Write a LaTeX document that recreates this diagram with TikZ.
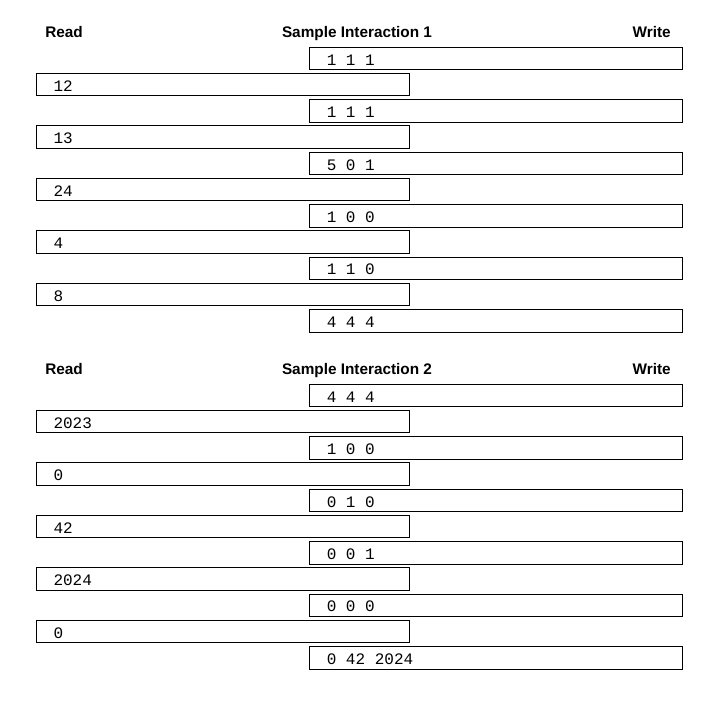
\documentclass[tikz,border=0pt]{standalone}
\usepackage{fontspec}
\setmainfont{Liberation Sans}
\newfontfamily\iofont{Liberation Mono}
\usepackage{tikz}

\tikzset{
  iobox/.style={draw=black,line width=0.75pt,anchor=north west,
    text width=254pt,align=left,inner xsep=12.75pt,inner ysep=0pt,
    minimum height=16.9pt,text height=10pt,text depth=0pt,
    font=\iofont\fontsize{12pt}{12pt}\selectfont,
    execute at begin node={\spaceskip=7.2pt\relax}},
  headtxt/.style={anchor=base,inner sep=0pt,font=\fontsize{11.5pt}{11.5pt}\selectfont\bfseries}
}

\begin{document}
\begin{tikzpicture}[x=0.75pt,y=-0.75pt]
\useasboundingbox (0,0) rectangle (708,704);
% sample interaction 1
\node[headtxt,anchor=base west] (rd1) at (45,37.7) {Read};
\node[headtxt] (title1) at (357,37.7) {Sample Interaction 1};
\node[headtxt,anchor=base east] (wr1) at (671,37.7) {Write};
\foreach \t [count=\k from 0] in {1 1 1,1 1 1,5 0 1,1 0 0,1 1 0,4 4 4}
  \node[iobox] (s1w\k) at (309.3,46.7+52.46*\k) {\t};
\foreach \t [count=\k from 0] in {12,13,24,4,8}
  \node[iobox] (s1r\k) at (36,72.9+52.46*\k) {\t};
% sample interaction 2
\node[headtxt,anchor=base west] (rd2) at (45,374.7) {Read};
\node[headtxt] (title2) at (357,374.7) {Sample Interaction 2};
\node[headtxt,anchor=base east] (wr2) at (671,374.7) {Write};
\foreach \t [count=\k from 0] in {4 4 4,1 0 0,0 1 0,0 0 1,0 0 0,0 42 2024}
  \node[iobox] (s2w\k) at (309.3,383.7+52.46*\k) {\t};
\foreach \t [count=\k from 0] in {2023,0,42,2024,0}
  \node[iobox] (s2r\k) at (36,409.9+52.46*\k) {\t};
\end{tikzpicture}
\end{document}
